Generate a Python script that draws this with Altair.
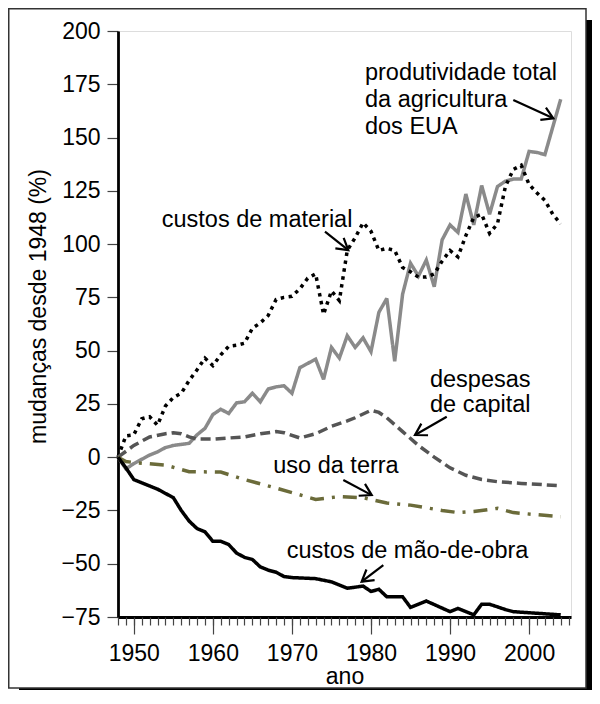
import math
import altair as alt
import pandas as pd

# ---------------- data ----------------
prod_years = [1948, 1949, 1950, 1952, 1953, 1954, 1955, 1957, 1958, 1959, 1960, 1961, 1962,
              1963, 1964, 1965, 1966, 1967, 1968, 1969, 1970, 1971, 1972, 1973, 1974, 1975,
              1976, 1977, 1978, 1979, 1980, 1981, 1982, 1983, 1984, 1985, 1986, 1987, 1988,
              1989, 1990, 1991, 1992, 1993, 1994, 1995, 1996, 1997, 1998, 1999, 2000, 2001,
              2002, 2003, 2004]
prod_vals = [0, -5.5, -3, 1, 2.5, 4.5, 5.5, 6.5, 10.5, 13.5, 20, 22.5, 20.5,
             25.5, 26, 30, 26, 32, 33, 33.5, 30, 42, 44, 46, 36.5, 51.5,
             46.5, 57, 51.5, 56, 49.5, 68, 74.5, 45, 76.5, 91, 85, 92.5, 80,
             102, 109, 105.5, 123.5, 109, 127.5, 114, 127, 129.5, 130.5, 130.5, 143.5, 143,
             142, 155, 168]

mat_years = list(range(1948, 2005))
mat_vals = [0, 10, 10.5, 18, 19, 15, 24, 28, 30, 36, 41, 46.5, 43, 48, 52, 52.5, 53.5,
            60.5, 63, 66.5, 74, 75, 75.5, 79, 84, 86, 67, 78, 73.5, 97, 103, 110, 106,
            97, 98, 97, 89, 87, 84.5, 84.5, 86, 92, 97, 94, 104, 112.5, 114, 105, 109.5,
            127, 135, 137, 128, 124, 120.5, 114, 109.5]

cap_years = [1948, 1950, 1952, 1954, 1955, 1956, 1957, 1958, 1960, 1962, 1964, 1966, 1968,
             1969, 1971, 1973, 1975, 1977, 1978, 1980, 1981, 1982, 1984, 1986, 1988, 1990,
             1992, 1994, 1996, 1999, 2004]
cap_vals = [0, 5.5, 9.5, 11, 11.5, 11, 9.5, 8.5, 8.5, 9, 9.5, 11, 12,
            11.5, 9, 11, 14.5, 17, 18.5, 22, 21, 18.5, 12, 5.5, 0, -5,
            -8.5, -10.5, -11.5, -12.3, -13.4]

land_years = [1948, 1949, 1950, 1954, 1957, 1961, 1964, 1968, 1973, 1976, 1979, 1982, 1985,
              1989, 1991, 1993, 1996, 1998, 2004]
land_vals = [0, -2, -2.5, -3.7, -6.8, -7, -10.5, -14.5, -19.8, -18.5, -19, -21.5, -22.5,
             -25, -26, -25.5, -24, -26, -28]

lab_years = [1948, 1949, 1950, 1951, 1952, 1953, 1955, 1956, 1957, 1958, 1959, 1960, 1961,
             1962, 1963, 1964, 1965, 1966, 1967, 1968, 1969, 1970, 1973, 1975, 1977, 1978,
             1979, 1980, 1981, 1982, 1984, 1985, 1987, 1990, 1991, 1993, 1994, 1995, 1997,
             1998, 2004]
lab_vals = [0, -5, -10.5, -12, -13.5, -15, -19, -25, -30, -33.5, -35, -39.5, -39.5,
            -41, -45, -47, -48, -51.5, -53, -54, -56, -56.5, -57, -58.5, -61.5, -61,
            -60.5, -63, -62, -65.5, -65.5, -70.5, -67.5, -72.5, -71, -74, -69, -69, -71.5,
            -72.5, -74]

series_names = ["produtividade", "material", "capital", "terra", "mao"]
series_colors = ["#8a8a8a", "#000000", "#555555", "#6b6b3a", "#000000"]
series_dashes = [[1, 0], [3.5, 4.5], [10, 5], [14, 8, 3, 8], [1, 0]]

# annotation labels (left edge / baseline in data units)
label_texts = ["produtividade total", "da agricultura", "dos EUA", "custos de material",
               "despesas", "de capital", "uso da terra", "custos de mão-de-obra"]
label_years = [1979.24, 1979.24, 1979.24, 1953.53, 1987.46, 1987.46, 1967.64, 1969.34]
label_vals = [177.0, 164.5, 151.7, 108.2, 33.0, 21.2, -7.3, -47.5]

# arrows: start -> end (head)
arrow_x1 = [1998.0, 1974.18, 1989.58, 1976.50, 1981.56]
arrow_y1 = [167.6, 105.8, 19.0, -10.7, -50.6]
arrow_x2 = [2003.06, 1977.13, 1985.57, 1980.09, 1978.82]
arrow_y2 = [159.0, 97.2, 10.4, -17.8, -58.4]

x_major = [1950, 1960, 1970, 1980, 1990, 2000]
x_minor = list(range(1948, 2006))
y_ticks = list(range(-75, 201, 25))

# ---------------- layout ----------------
W, H = 453, 586
X_DOM = [1948, 2005.3]
Y_DOM = [-75, 200]
FONT = "Liberation Sans"

rows = []
for name, ys, vs in [("produtividade", prod_years, prod_vals),
                     ("material", mat_years, mat_vals),
                     ("capital", cap_years, cap_vals),
                     ("terra", land_years, land_vals),
                     ("mao", lab_years, lab_vals)]:
    for yr, v in zip(ys, vs):
        rows.append({"year": yr, "value": v, "series": name})
lines_df = pd.DataFrame(rows)

labels_df = pd.DataFrame({"text": label_texts, "year": label_years, "value": label_vals})

px_year = W / (X_DOM[1] - X_DOM[0])
px_val = H / (Y_DOM[1] - Y_DOM[0])
angles = []
for a, b, c, d in zip(arrow_x1, arrow_y1, arrow_x2, arrow_y2):
    dx = (c - a) * px_year
    dy = -(d - b) * px_val
    angles.append(math.degrees(math.atan2(dy, dx)) % 360)
arrows_df = pd.DataFrame({"year": arrow_x1, "value": arrow_y1, "year2": arrow_x2,
                          "value2": arrow_y2, "angle": angles})

xscale = alt.Scale(domain=X_DOM, nice=False, zero=False)
yscale = alt.Scale(domain=Y_DOM, nice=False, zero=False)

y_axis = alt.Axis(values=y_ticks, tickSize=11, tickColor="#444444", tickWidth=1.2,
                  labelFont=FONT, labelFontSize=23, labelColor="black", labelPadding=7,
                  labelFlush=False, domainColor="black", domainWidth=2.8, grid=False,
                  title="mudanças desde 1948 (%)", titleFont=FONT, titleFontSize=23,
                  titleFontWeight="normal", titleColor="black", titleAngle=270,
                  titleX=-80, titleY=275, titleAlign="center", titleBaseline="middle")

x_axis_major = alt.Axis(values=x_major, format="d", orient="bottom", tickSize=17,
                        tickColor="#444444", tickWidth=1.2, labelFont=FONT,
                        labelFontSize=23, labelColor="black", labelBaseline="alphabetic",
                        labelPadding=26, labelFlush=False, labelOverlap=False,
                        domainColor="black", domainWidth=2.8, grid=False,
                        title="ano", titleFont=FONT, titleFontSize=23,
                        titleFontWeight="normal", titleColor="black",
                        titleX=W / 2, titleY=66, titleAlign="center",
                        titleBaseline="alphabetic")

x_axis_minor = alt.Axis(values=x_minor, orient="bottom", tickSize=8, tickColor="#444444",
                        tickWidth=1.2, labels=False, domain=False, grid=False, title=None)

one = pd.DataFrame({"k": [0]})

# decorative outer frame and drop shadow (pixel positions relative to the plot)
shadow_right = alt.Chart(one).mark_rect(color="black").encode(
    x=alt.value(468), x2=alt.value(490), y=alt.value(-11), y2=alt.value(700))
shadow_bottom = alt.Chart(one).mark_rect(color="black").encode(
    x=alt.value(-99), x2=alt.value(490), y=alt.value(657), y2=alt.value(700))
frame = alt.Chart(one).mark_rect(filled=False, stroke="#333333", strokeWidth=1.5).encode(
    x=alt.value(-109.25), x2=alt.value(468), y=alt.value(-22.25), y2=alt.value(657))

lines = alt.Chart(lines_df).mark_line(strokeWidth=3.5, strokeMiterLimit=3).encode(
    x=alt.X("year:Q", scale=xscale, axis=x_axis_major),
    y=alt.Y("value:Q", scale=yscale, axis=y_axis),
    color=alt.Color("series:N", scale=alt.Scale(domain=series_names, range=series_colors),
                    legend=None),
    strokeDash=alt.StrokeDash("series:N",
                              scale=alt.Scale(domain=series_names, range=series_dashes),
                              legend=None),
    detail="series:N",
)

texts = alt.Chart(labels_df).mark_text(align="left", baseline="alphabetic", font=FONT,
                                       fontSize=23.5, color="black").encode(
    x=alt.X("year:Q", scale=xscale, axis=x_axis_minor),
    y=alt.Y("value:Q", scale=yscale, axis=y_axis),
    text="text:N",
)

shafts = alt.Chart(arrows_df).mark_rule(color="black", strokeWidth=2.2).encode(
    x=alt.X("year:Q", scale=xscale, axis=None),
    y=alt.Y("value:Q", scale=yscale, axis=y_axis),
    x2="year2:Q",
    y2="value2:Q",
)

heads = alt.Chart(arrows_df).mark_point(shape="M -1 -0.6 L 0 0 L -1 0.6", filled=False,
                                        size=500, strokeWidth=2.2, color="black",
                                        opacity=1).encode(
    x=alt.X("year2:Q", scale=xscale, axis=None),
    y=alt.Y("value2:Q", scale=yscale, axis=y_axis),
    angle=alt.Angle("angle:Q", scale=None),
)

chart = alt.layer(shadow_right, shadow_bottom, frame, lines, texts, shafts, heads).resolve_axis(
    x="independent"
).properties(
    width=W, height=H,
    autosize=alt.AutoSizeParams(type="none"),
    padding={"left": 110, "top": 23, "right": 21, "bottom": 73},
).configure_view(
    stroke="black", strokeWidth=2.8
).configure(background="white")

chart.save("out.html", embed_options={"renderer": "svg", "actions": False})
